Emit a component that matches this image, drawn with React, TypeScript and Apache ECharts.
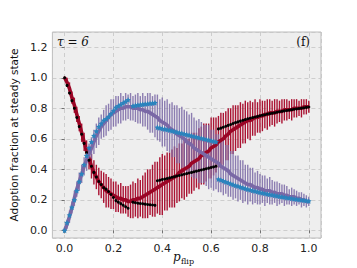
import React, { useEffect, useRef } from "react";
import * as echarts from "echarts";

// p_flip grid (step 0.01)
const pFlip: number[] = Array.from({ length: 101 }, (_, i) => i / 100);

// Simulated mean adoption fraction (red) and its error half-widths
const redMean: number[] = [
  1.0, 0.97, 0.93, 0.87, 0.82, 0.76, 0.7, 0.64, 0.58, 0.52,
  0.47, 0.42, 0.38, 0.35, 0.32, 0.3, 0.28, 0.26, 0.25, 0.24,
  0.23, 0.22, 0.21, 0.21, 0.2, 0.2, 0.19, 0.19, 0.2, 0.2,
  0.21, 0.21, 0.22, 0.23, 0.24, 0.25, 0.26, 0.27, 0.28, 0.29,
  0.3, 0.31, 0.32, 0.33, 0.34, 0.35, 0.36, 0.38, 0.39, 0.4,
  0.41, 0.42, 0.44, 0.45, 0.46, 0.47, 0.49, 0.5, 0.51, 0.52,
  0.54, 0.55, 0.56, 0.58, 0.59, 0.6, 0.62, 0.63, 0.65, 0.66,
  0.67, 0.68, 0.69, 0.7, 0.71, 0.72, 0.72, 0.73, 0.74, 0.74,
  0.75, 0.75, 0.76, 0.76, 0.77, 0.77, 0.77, 0.78, 0.78, 0.78,
  0.79, 0.79, 0.79, 0.79, 0.8, 0.8, 0.8, 0.8, 0.81, 0.81,
  0.81,
];
const redErr: number[] = [
  0.01, 0.03, 0.04, 0.04, 0.05, 0.05, 0.05, 0.06, 0.06, 0.07,
  0.07, 0.08, 0.08, 0.08, 0.09, 0.09, 0.1, 0.11, 0.1, 0.1,
  0.09, 0.1, 0.09, 0.1, 0.09, 0.09, 0.1, 0.11, 0.12, 0.11,
  0.13, 0.12, 0.14, 0.15, 0.16, 0.15, 0.17, 0.18, 0.17, 0.19,
  0.2, 0.18, 0.19, 0.18, 0.19, 0.2, 0.18, 0.19, 0.18, 0.2,
  0.19, 0.18, 0.2, 0.19, 0.18, 0.2, 0.19, 0.2, 0.19, 0.18,
  0.2, 0.19, 0.18, 0.17, 0.18, 0.17, 0.16, 0.17, 0.15, 0.16,
  0.15, 0.14, 0.15, 0.13, 0.14, 0.12, 0.13, 0.11, 0.12, 0.1,
  0.11, 0.1, 0.09, 0.1, 0.09, 0.08, 0.09, 0.08, 0.07, 0.08,
  0.07, 0.07, 0.06, 0.07, 0.06, 0.06, 0.05, 0.06, 0.05, 0.05,
  0.04,
];

// Simulated mean adoption fraction (purple) and its error half-widths
const purpleMean: number[] = [
  0.0, 0.04, 0.09, 0.15, 0.21, 0.27, 0.32, 0.37, 0.42, 0.46,
  0.5, 0.54, 0.58, 0.62, 0.65, 0.68, 0.7, 0.72, 0.74, 0.76,
  0.77, 0.78, 0.79, 0.8, 0.8, 0.81, 0.81, 0.81, 0.8, 0.8,
  0.8, 0.79, 0.79, 0.78, 0.78, 0.77, 0.76, 0.75, 0.74, 0.72,
  0.71, 0.7, 0.69, 0.67, 0.66, 0.65, 0.63, 0.62, 0.61, 0.6,
  0.58, 0.57, 0.56, 0.54, 0.53, 0.52, 0.51, 0.5, 0.49, 0.48,
  0.47, 0.46, 0.45, 0.44, 0.42, 0.41, 0.4, 0.39, 0.37, 0.36,
  0.35, 0.34, 0.33, 0.32, 0.31, 0.3, 0.3, 0.29, 0.28, 0.28,
  0.27, 0.27, 0.26, 0.26, 0.26, 0.25, 0.25, 0.24, 0.24, 0.24,
  0.23, 0.23, 0.22, 0.22, 0.22, 0.21, 0.21, 0.2, 0.2, 0.19,
  0.19,
];
const purpleErr: number[] = [
  0.01, 0.03, 0.04, 0.04, 0.05, 0.05, 0.06, 0.06, 0.06, 0.07,
  0.07, 0.07, 0.08, 0.08, 0.09, 0.08, 0.09, 0.1, 0.09, 0.1,
  0.09, 0.1, 0.09, 0.1, 0.08, 0.09, 0.08, 0.09, 0.08, 0.09,
  0.1, 0.09, 0.11, 0.1, 0.12, 0.13, 0.12, 0.14, 0.15, 0.14,
  0.16, 0.15, 0.17, 0.16, 0.18, 0.17, 0.19, 0.18, 0.2, 0.19,
  0.2, 0.19, 0.21, 0.2, 0.19, 0.21, 0.2, 0.19, 0.2, 0.21,
  0.19, 0.2, 0.18, 0.19, 0.17, 0.18, 0.16, 0.17, 0.15, 0.16,
  0.14, 0.15, 0.13, 0.14, 0.12, 0.13, 0.11, 0.12, 0.1, 0.11,
  0.1, 0.09, 0.1, 0.08, 0.09, 0.08, 0.07, 0.08, 0.07, 0.06,
  0.07, 0.06, 0.05, 0.06, 0.05, 0.05, 0.04, 0.05, 0.04, 0.04,
  0.03,
];

// Theory (black dots, for the red series); null = no stable branch shown
const theoryBlack: (number | null)[] = [
  1.0, 0.95, 0.9, 0.85, 0.8, 0.74, 0.68, 0.63, 0.57, 0.51,
  0.46, 0.42, 0.38, 0.35, 0.32, 0.3, 0.28, 0.27, 0.255, 0.235,
  0.215, 0.195, 0.185, 0.175, 0.165, 0.155, 0.145, null, 0.185, 0.181,
  0.178, 0.176, 0.174, 0.172, 0.17, 0.168, 0.166, 0.164, 0.325, 0.329,
  0.333, 0.336, 0.34, 0.344, 0.348, 0.352, 0.356, 0.36, 0.364, 0.368,
  0.372, 0.376, 0.38, 0.384, 0.388, 0.392, 0.396, 0.4, 0.404, 0.408,
  0.412, 0.416, 0.42, 0.665, 0.67, 0.676, 0.682, 0.688, 0.694, 0.7,
  0.706, 0.711, 0.716, 0.721, 0.726, 0.731, 0.735, 0.739, 0.743, 0.747,
  0.751, 0.755, 0.758, 0.762, 0.765, 0.768, 0.771, 0.774, 0.777, 0.78,
  0.783, 0.786, 0.788, 0.791, 0.794, 0.796, 0.799, 0.801, 0.803, 0.806,
  0.808,
];

// Theory (blue stars, for the purple series)
const theoryBlue: (number | null)[] = [
  0.0, 0.05, 0.1, 0.15, 0.2, 0.26, 0.32, 0.37, 0.43, 0.49,
  0.54, 0.58, 0.62, 0.65, 0.68, 0.7, 0.72, 0.73, 0.745, 0.765,
  0.785, 0.805, 0.815, 0.825, 0.835, 0.845, 0.855, null, 0.815, 0.819,
  0.822, 0.824, 0.826, 0.828, 0.83, 0.832, 0.834, 0.836, 0.675, 0.671,
  0.667, 0.664, 0.66, 0.656, 0.652, 0.648, 0.644, 0.64, 0.636, 0.632,
  0.628, 0.624, 0.62, 0.616, 0.612, 0.608, 0.604, 0.6, 0.596, 0.592,
  0.588, 0.584, 0.58, 0.335, 0.33, 0.324, 0.318, 0.312, 0.306, 0.3,
  0.294, 0.289, 0.284, 0.279, 0.274, 0.269, 0.265, 0.261, 0.257, 0.253,
  0.249, 0.245, 0.242, 0.238, 0.235, 0.232, 0.229, 0.226, 0.223, 0.22,
  0.217, 0.214, 0.212, 0.209, 0.206, 0.204, 0.201, 0.199, 0.197, 0.194,
  0.192,
];

const RED = "#A60628";
const PURPLE = "#7A68A6";
const BLUE = "#2b83bd";
const STAR =
  "path://M0,-10 L2.94,-4.05 L9.51,-3.09 L4.76,1.55 L5.88,8.09 L0,5 L-5.88,8.09 L-4.76,1.55 L-9.51,-3.09 L-2.94,-4.05 Z";

function errorSeries(mean: number[], err: number[], color: string, opacity: number, z: number) {
  return {
    type: "custom",
    z,
    data: pFlip.map((x, i) => [x, mean[i] - err[i], mean[i] + err[i]]),
    encode: { x: 0, y: [1, 2] },
    renderItem: (_params: any, api: any) => {
      const x = api.value(0);
      const p1 = api.coord([x, api.value(1)]);
      const p2 = api.coord([x, api.value(2)]);
      return {
        type: "line",
        shape: { x1: p1[0], y1: p1[1], x2: p2[0], y2: p2[1] },
        style: { stroke: color, lineWidth: 1.4, opacity },
      };
    },
    silent: true,
  };
}

const tickFmt = (v: number) => {
  const k = Math.round(v / 0.2);
  if (Math.abs(v - k * 0.2) > 1e-6) return "";
  return (k * 0.2).toFixed(1);
};

export default function App() {
  const ref = useRef<HTMLDivElement>(null);
  useEffect(() => {
    if (!ref.current) return;
    const chart = echarts.init(ref.current, undefined, { renderer: "svg" });
    const axisCommon = {
      type: "value",
      axisLine: { show: false },
      axisTick: { show: true, length: 3, lineStyle: { color: "#555", width: 0.8 } },
      axisLabel: {
        formatter: tickFmt,
        showMinLabel: false,
        showMaxLabel: false,
        color: "#222",
        fontSize: 11,
        fontFamily: "DejaVu Sans",
      },
      splitLine: { show: true, lineStyle: { color: "#c4c4c4", type: [4, 3], width: 0.8 } },
    };
    chart.setOption({
      animation: false,
      backgroundColor: "#ffffff",
      grid: {
        left: 44,
        top: 32,
        right: 36,
        bottom: 30,
        show: true,
        backgroundColor: "#eeeeee",
        borderColor: "#bcbcbc",
        borderWidth: 1,
      },
      xAxis: {
        ...axisCommon,
        min: -0.05,
        max: 1.05,
        splitNumber: 5,
        axisLabel: { ...axisCommon.axisLabel, margin: 5 },
      },
      yAxis: {
        ...axisCommon,
        min: -0.05,
        max: 1.3,
        splitNumber: 6,
        axisLabel: { ...axisCommon.axisLabel, margin: 5 },
        name: "Adoption fraction at steady state",
        nameLocation: "middle",
        nameGap: 28,
        nameTextStyle: { fontSize: 10.5, fontFamily: "DejaVu Sans", color: "#111" },
      },
      series: [
        errorSeries(redMean, redErr, RED, 0.95, 2),
        errorSeries(purpleMean, purpleErr, PURPLE, 0.85, 3),
        {
          type: "line",
          z: 4,
          data: pFlip.map((x, i) => [x, redMean[i]]),
          showSymbol: false,
          lineStyle: { color: "#9a0525", width: 3.6 },
          itemStyle: { color: RED },
          silent: true,
        },
        {
          type: "line",
          z: 5,
          data: pFlip.map((x, i) => [x, purpleMean[i]]),
          showSymbol: false,
          lineStyle: { color: PURPLE, width: 3.6 },
          itemStyle: { color: PURPLE },
          silent: true,
        },
        {
          type: "scatter",
          z: 6,
          data: pFlip
            .map((x, i) => (theoryBlack[i] == null ? null : [x, theoryBlack[i]]))
            .filter((d) => d !== null),
          symbol: "circle",
          symbolSize: 3,
          itemStyle: { color: "#000", opacity: 1 },
          silent: true,
        },
        {
          type: "scatter",
          z: 7,
          data: pFlip
            .map((x, i) => (theoryBlue[i] == null ? null : [x, theoryBlue[i]]))
            .filter((d) => d !== null),
          symbol: STAR,
          symbolSize: 5.6,
          itemStyle: { color: BLUE, opacity: 1 },
          silent: true,
        },
      ],
      graphic: [
        {
          type: "text",
          left: 57,
          top: 36,
          style: {
            text: "τ = 6",
            font: "italic 12px 'DejaVu Serif'",
            fill: "#111",
          },
        },
        {
          type: "text",
          right: 47,
          top: 36,
          style: {
            text: "(f)",
            font: "12px 'DejaVu Serif'",
            fill: "#111",
          },
        },
        {
          type: "text",
          left: 173,
          top: 251,
          style: { text: "p", font: "italic 12px 'DejaVu Serif'", fill: "#111" },
        },
        {
          type: "text",
          left: 181,
          top: 257,
          style: { text: "flip", font: "8px 'DejaVu Serif'", fill: "#111" },
        },
      ],
    });
    return () => chart.dispose();
  }, []);
  return (
    <div
      ref={ref}
      style={{ position: "fixed", left: 0, top: 0, width: 357, height: 268 }}
    />
  );
}
